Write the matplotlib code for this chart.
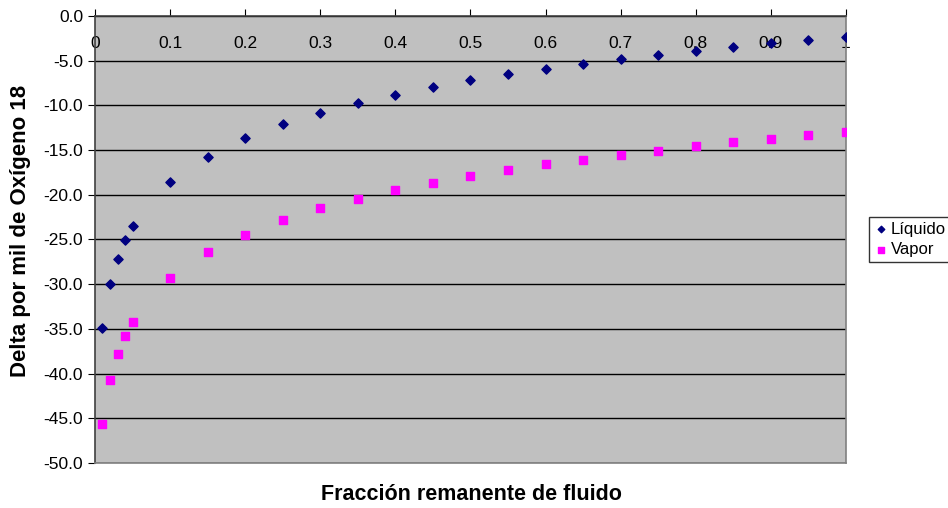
import matplotlib.pyplot as plt
from matplotlib.ticker import MultipleLocator, FormatStrFormatter

plt.rcParams['font.family'] = 'Liberation Sans'
plt.rcParams['axes.unicode_minus'] = False

# fracción remanente de fluido
fraccion = [0.01, 0.02, 0.03, 0.04, 0.05, 0.1, 0.15, 0.2, 0.25, 0.3, 0.35, 0.4,
            0.45, 0.5, 0.55, 0.6, 0.65, 0.7, 0.75, 0.8, 0.85, 0.9, 0.95, 1.0]
liquido = [-34.9, -30.0, -27.2, -25.1, -23.5, -18.6, -15.8, -13.6, -12.1, -10.85,
           -9.7, -8.8, -7.9, -7.2, -6.5, -5.9, -5.4, -4.8, -4.4, -3.9, -3.5,
           -3.0, -2.7, -2.3]
vapor = [-45.6, -40.7, -37.8, -35.8, -34.2, -29.3, -26.4, -24.5, -22.8, -21.5,
         -20.5, -19.5, -18.7, -17.9, -17.2, -16.6, -16.1, -15.5, -15.1, -14.5,
         -14.1, -13.8, -13.3, -13.0]
xticks = [0, 0.1, 0.2, 0.3, 0.4, 0.5, 0.6, 0.7, 0.8, 0.9, 1.0]
xtick_labels = ['0', '0.1', '0.2', '0.3', '0.4', '0.5', '0.6', '0.7', '0.8', '0.9', '1']

fig = plt.figure(figsize=(9.48, 5.08), dpi=100)
ax = fig.add_axes([0.1002, 0.0886, 0.7922, 0.880])
ax.set_facecolor('#C0C0C0')

ax.scatter(fraccion, liquido, marker='D', s=22, color='#000080', label='Líquido', zorder=3)
ax.scatter(fraccion, vapor, marker='s', s=36, color='#FF00FF', label='Vapor', zorder=3)

ax.set_xlim(0, 1)
ax.set_ylim(-50, 0)
ax.yaxis.set_major_locator(MultipleLocator(5))
ax.yaxis.set_major_formatter(FormatStrFormatter('%.1f'))
ax.set_xticks(xticks)
ax.set_xticklabels(xtick_labels)

# eje x en la parte superior, etiquetas dentro del área
ax.xaxis.tick_top()
ax.tick_params(axis='x', direction='out', length=5, pad=-30, labelsize=12.5, colors='black')
ax.tick_params(axis='y', direction='out', length=5, labelsize=12.5)

ax.grid(True, axis='y', color='black', linewidth=1)
ax.set_axisbelow(True)

for s in ['left', 'top']:
    ax.spines[s].set_color('#404040')
    ax.spines[s].set_linewidth(1.2)
for s in ['right', 'bottom']:
    ax.spines[s].set_color('#808080')
    ax.spines[s].set_linewidth(1.2)

fig.text(21 / 948, 1 - 231 / 508, 'Delta por mil de Oxígeno 18', fontsize=16,
         fontweight='bold', rotation=90, ha='center', va='center')
fig.text(471 / 948, 1 - 494 / 508, 'Fracción remanente de fluido', fontsize=15.5,
         fontweight='bold', ha='center', va='center')

leg = ax.legend(loc='center left', bbox_to_anchor=(1.031, 0.5), fontsize=12,
                frameon=True, fancybox=False, handletextpad=0.15, handlelength=0.9,
                borderpad=0.25, labelspacing=0.35, markerscale=0.7, borderaxespad=0)
leg.get_frame().set_edgecolor('black')
leg.get_frame().set_linewidth(1)

plt.savefig('out.png')
